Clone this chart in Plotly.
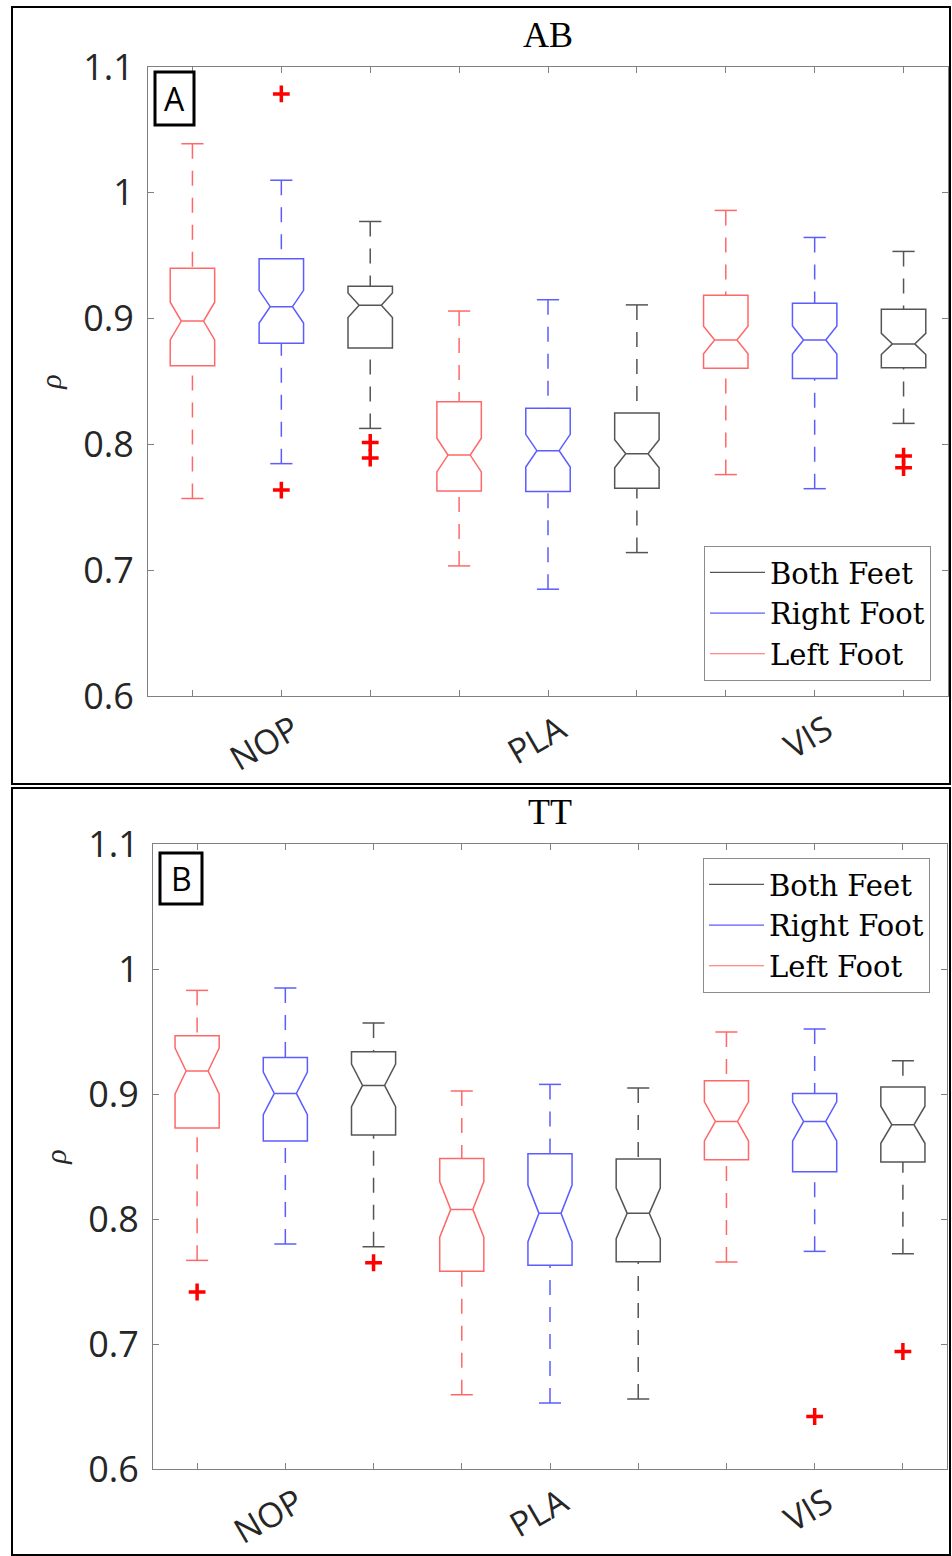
import plotly.graph_objects as go

W, H = 952, 1556

categories = ["NOP", "PLA", "VIS"]
series_names = ["Left Foot", "Right Foot", "Both Feet"]
series_colors = ["#ff6868", "#5c5cff", "#555555"]
panel_titles = ["AB", "TT"]
panel_labels = ["A", "B"]
y_ticks = [0.6, 0.7, 0.8, 0.9, 1.0, 1.1]
y_ticktext = ["0.6", "0.7", "0.8", "0.9", "1", "1.1"]

# ---- Panel A (AB) : per series, values for NOP, PLA, VIS ----
A_left_upper = [1.039, 0.906, 0.986]
A_left_q3 = [0.940, 0.834, 0.9185]
A_left_med = [0.898, 0.7915, 0.883]
A_left_q1 = [0.8625, 0.763, 0.8606]
A_left_lower = [0.757, 0.7034, 0.776]
A_left_notch = [0.015, 0.0134, 0.011]
A_left_out = [[], [], []]

A_right_upper = [1.010, 0.915, 0.9645]
A_right_q3 = [0.9476, 0.8288, 0.9122]
A_right_med = [0.9095, 0.795, 0.883]
A_right_q1 = [0.8804, 0.7625, 0.8524]
A_right_lower = [0.7847, 0.6849, 0.7648]
A_right_notch = [0.013, 0.013, 0.0112]
A_right_out = [[1.0786, 0.7637], [], []]

A_both_upper = [0.9772, 0.9109, 0.9534]
A_both_q3 = [0.9257, 0.8249, 0.9074]
A_both_med = [0.9106, 0.7926, 0.8799]
A_both_q1 = [0.8767, 0.7651, 0.8609]
A_both_lower = [0.8127, 0.714, 0.8167]
A_both_notch = [0.0097, 0.0111, 0.0084]
A_both_out = [[0.8015, 0.7892], [], [0.7907, 0.7815]]

# ---- Panel B (TT) ----
B_left_upper = [0.9829, 0.9024, 0.9496]
B_left_q3 = [0.9467, 0.8485, 0.9106]
B_left_med = [0.9184, 0.8077, 0.8781]
B_left_q1 = [0.8728, 0.7581, 0.8474]
B_left_lower = [0.7669, 0.6594, 0.7656]
B_left_notch = [0.0184, 0.0222, 0.0156]
B_left_out = [[0.7416], [], []]

B_right_upper = [0.9848, 0.9077, 0.952]
B_right_q3 = [0.9293, 0.8522, 0.9005]
B_right_med = [0.9005, 0.8045, 0.8781]
B_right_q1 = [0.8624, 0.7629, 0.8378]
B_right_lower = [0.78, 0.6528, 0.7741]
B_right_notch = [0.017, 0.0226, 0.0157]
B_right_out = [[], [], [0.642]]

B_both_upper = [0.9568, 0.9048, 0.9266]
B_both_q3 = [0.9338, 0.848, 0.9056]
B_both_med = [0.9069, 0.8045, 0.8754]
B_both_q1 = [0.8672, 0.7658, 0.8456]
B_both_lower = [0.7778, 0.656, 0.7722]
B_both_notch = [0.017, 0.0203, 0.0148]
B_both_out = [[0.765], [], [0.694]]

panels = [
    [
        (A_left_upper, A_left_q3, A_left_med, A_left_q1, A_left_lower, A_left_notch, A_left_out),
        (A_right_upper, A_right_q3, A_right_med, A_right_q1, A_right_lower, A_right_notch, A_right_out),
        (A_both_upper, A_both_q3, A_both_med, A_both_q1, A_both_lower, A_both_notch, A_both_out),
    ],
    [
        (B_left_upper, B_left_q3, B_left_med, B_left_q1, B_left_lower, B_left_notch, B_left_out),
        (B_right_upper, B_right_q3, B_right_med, B_right_q1, B_right_lower, B_right_notch, B_right_out),
        (B_both_upper, B_both_q3, B_both_med, B_both_q1, B_both_lower, B_both_notch, B_both_out),
    ],
]


def px_x(x):
    return x / W


def px_y(y):
    return 1 - y / H


# plot areas in pixels: (left, right, top, bottom)
plot_px = [(148, 948, 67, 696), (153, 947, 844, 1469)]
frames_px = [(12, 950, 7, 784), (12, 950, 788, 1555)]
label_boxes_px = [(155, 194, 72, 125), (160, 202, 853, 904)]
legend_px = [(931, 681, "bottom"), (930, 858, "top")]

BOX_W = 0.5
CAP_W = 0.25

fig = go.Figure()

for p, panel in enumerate(panels):
    xa = "x" if p == 0 else "x2"
    ya = "y" if p == 0 else "y2"
    for s, (upper, q3, med, q1, lower, notch, outs) in enumerate(panel):
        col = series_colors[s]
        pos = [1 + 3 * c + s for c in range(len(categories))]
        # notched box, whiskers drawn separately
        fig.add_trace(go.Box(
            x=pos, q1=q1, median=med, q3=q3, lowerfence=q1, upperfence=q3,
            notchspan=notch, notched=True, notchwidth=0.25, width=BOX_W,
            boxpoints=False, fillcolor="rgba(0,0,0,0)",
            line=dict(color=col, width=1.5), whiskerwidth=0,
            xaxis=xa, yaxis=ya, showlegend=False, hoverinfo="skip",
        ))
        wx, wy, cx, cy = [], [], [], []
        for i, xp in enumerate(pos):
            wx += [xp, xp, None, xp, xp, None]
            wy += [upper[i], q3[i], None, lower[i], q1[i], None]
            cx += [xp - CAP_W / 2, xp + CAP_W / 2, None, xp - CAP_W / 2, xp + CAP_W / 2, None]
            cy += [upper[i], upper[i], None, lower[i], lower[i], None]
        fig.add_trace(go.Scatter(x=wx, y=wy, mode="lines",
                                 line=dict(color=col, width=1.5, dash="15px,12px"),
                                 xaxis=xa, yaxis=ya, showlegend=False, hoverinfo="skip"))
        fig.add_trace(go.Scatter(x=cx, y=cy, mode="lines",
                                 line=dict(color=col, width=1.5),
                                 xaxis=xa, yaxis=ya, showlegend=False, hoverinfo="skip"))
        ox, oy = [], []
        for i, xp in enumerate(pos):
            for v in outs[i]:
                ox.append(xp)
                oy.append(v)
        if ox:
            fig.add_trace(go.Scatter(x=ox, y=oy, mode="markers",
                                     marker=dict(symbol="cross-thin", size=12, color="#ff0000",
                                                 line=dict(color="#ff0000", width=3.5)),
                                     xaxis=xa, yaxis=ya, showlegend=False, hoverinfo="skip"))
    # legend entries (Both Feet, Right Foot, Left Foot)
    for s in [2, 1, 0]:
        fig.add_trace(go.Scatter(x=[None], y=[None], mode="lines", name=series_names[s],
                                 line=dict(color=series_colors[s], width=1.2),
                                 xaxis=xa, yaxis=ya,
                                 legend="legend" if p == 0 else "legend2"))

tickvals_x = list(range(1, 10))
ticktext_x = ["" if (v - 2) % 3 else categories[(v - 2) // 3] for v in tickvals_x]

axis_common = dict(showgrid=False, zeroline=False, showline=True, linecolor="#808080",
                   linewidth=1, mirror="ticks", ticks="inside", ticklen=6,
                   tickcolor="#808080", automargin=False)
tick_font = dict(family="Open Sans", size=36, color="#262626")
xtick_font = dict(family="Open Sans", size=34, color="#262626")

layout = dict(width=W, height=H, margin=dict(l=0, r=0, t=0, b=0, pad=0, autoexpand=False),
              paper_bgcolor="white", plot_bgcolor="white", showlegend=True,
              boxmode="overlay")

for p in range(2):
    l, r, t, b = plot_px[p]
    xdom = [px_x(l), px_x(r)]
    ydom = [px_y(b), px_y(t)]
    xk = "xaxis" if p == 0 else "xaxis2"
    yk = "yaxis" if p == 0 else "yaxis2"
    layout[xk] = dict(axis_common, domain=xdom, range=[0.5, 9.5], tickvals=tickvals_x,
                      ticktext=ticktext_x, tickangle=-30, tickfont=xtick_font,
                      anchor="y" if p == 0 else "y2", ticklabelstandoff=0, ticklabelshift=12)
    layout[yk] = dict(axis_common, domain=ydom, range=[0.6, 1.1], tickvals=y_ticks,
                      ticktext=y_ticktext, tickfont=tick_font,
                      anchor="x" if p == 0 else "x2", ticklabelstandoff=6,
                      title=dict(text="<i>ρ</i>", font=dict(family="Liberation Serif", size=30,
                                                            color="#262626"), standoff=12))
    lx, ly, yanc = legend_px[p]
    lk = "legend" if p == 0 else "legend2"
    layout[lk] = dict(x=px_x(lx), y=px_y(ly), xanchor="right", yanchor=yanc,
                      bgcolor="white", bordercolor="#8c8c8c", borderwidth=1,
                      font=dict(family="DejaVu Serif", size=29, color="black"),
                      itemwidth=55, tracegroupgap=0)

fig.update_layout(**layout)

shapes = []
annotations = []
for p in range(2):
    fl, fr, ft, fb = frames_px[p]
    shapes.append(dict(type="rect", xref="paper", yref="paper",
                       x0=px_x(fl), x1=px_x(fr), y0=px_y(fb), y1=px_y(ft),
                       line=dict(color="black", width=2)))
    bl, br, bt, bb = label_boxes_px[p]
    shapes.append(dict(type="rect", xref="paper", yref="paper",
                       x0=px_x(bl), x1=px_x(br), y0=px_y(bb), y1=px_y(bt),
                       line=dict(color="black", width=3), fillcolor="white"))
    annotations.append(dict(xref="paper", yref="paper", x=px_x((bl + br) / 2), y=px_y((bt + bb) / 2),
                            text=panel_labels[p], showarrow=False, xanchor="center", yanchor="middle",
                            font=dict(family="Open Sans", size=32, color="black")))
    l, r, t, b = plot_px[p]
    annotations.append(dict(xref="paper", yref="paper", x=px_x((l + r) / 2), y=px_y(t - 10),
                            text=panel_titles[p], showarrow=False, xanchor="center", yanchor="bottom",
                            font=dict(family="Liberation Serif", size=36, color="black")))

fig.update_layout(shapes=shapes, annotations=annotations)
fig.write_html("out.html", config={"displayModeBar": False},
               post_script="document.body.style.margin='0px';document.body.style.overflow='hidden';")
